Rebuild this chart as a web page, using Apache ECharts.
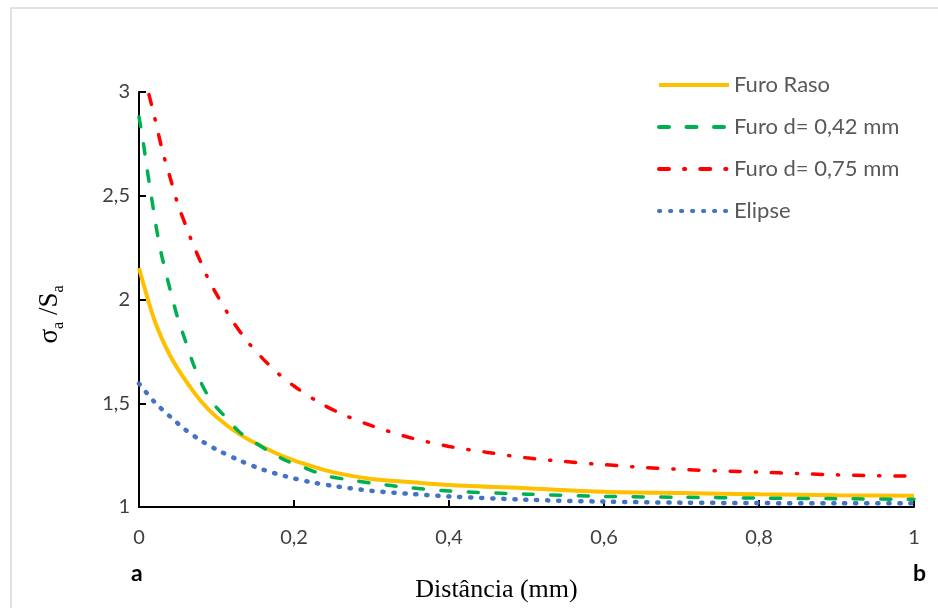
<!DOCTYPE html>
<html>
<head>
<meta charset="utf-8">
<script src="https://cdn.jsdelivr.net/npm/echarts@6/dist/echarts.min.js"></script>
<style>
  html, body { margin: 0; padding: 0; background: #ffffff; }
  #chart { width: 938px; height: 608px; }
</style>
</head>
<body>
<div id="chart"></div>
<script>
// Series names
var seriesNames = ['Furo Raso', 'Furo d= 0,42 mm', 'Furo d= 0,75 mm', 'Elipse'];

// Furo Raso
var distRaso = [0, 0.02, 0.04, 0.06, 0.08, 0.10, 0.13, 0.16, 0.19, 0.22, 0.25, 0.30, 0.35, 0.40, 0.50, 0.60, 0.70, 0.80, 0.90, 1.00];
var furoRaso = [2.152, 1.90, 1.73, 1.61, 1.51, 1.434, 1.35, 1.289, 1.238, 1.20, 1.168, 1.135, 1.12, 1.106, 1.09, 1.074, 1.067, 1.061, 1.057, 1.054];

// Furo d = 0,42 mm
var dist042 = [0, 0.005, 0.01, 0.015, 0.02, 0.025, 0.03, 0.04, 0.05, 0.06, 0.07, 0.08, 0.09, 0.10, 0.11, 0.13, 0.15, 0.17, 0.19, 0.21, 0.24, 0.27, 0.30, 0.35, 0.40, 0.50, 0.60, 0.70, 0.80, 0.90, 1.00];
var furo042 = [2.88, 2.77, 2.64, 2.52, 2.40, 2.29, 2.20, 2.05, 1.91, 1.80, 1.69, 1.60, 1.53, 1.48, 1.44, 1.36, 1.31, 1.263, 1.223, 1.195, 1.152, 1.132, 1.115, 1.093, 1.077, 1.062, 1.051, 1.047, 1.043, 1.040, 1.037];

// Furo d = 0,75 mm
var dist075 = [0, 0.01, 0.02, 0.03, 0.04, 0.05, 0.06, 0.07, 0.08, 0.09, 0.10, 0.12, 0.14, 0.16, 0.18, 0.20, 0.23, 0.26, 0.30, 0.35, 0.40, 0.45, 0.50, 0.55, 0.60, 0.65, 0.70, 0.75, 0.80, 0.85, 0.90, 0.95, 1.00];
var furo075 = [3.18, 3.03, 2.88, 2.72, 2.59, 2.46, 2.36, 2.263, 2.178, 2.094, 2.026, 1.90, 1.797, 1.714, 1.642, 1.583, 1.509, 1.451, 1.392, 1.334, 1.292, 1.263, 1.237, 1.219, 1.204, 1.191, 1.181, 1.174, 1.168, 1.161, 1.155, 1.151, 1.149];

// Elipse
var distElipse = [0, 0.02, 0.04, 0.06, 0.08, 0.10, 0.13, 0.16, 0.19, 0.22, 0.25, 0.30, 0.35, 0.40, 0.50, 0.60, 0.70, 0.80, 0.90, 1.00];
var elipse = [1.595, 1.506, 1.436, 1.372, 1.32, 1.277, 1.224, 1.18, 1.147, 1.121, 1.102, 1.078, 1.063, 1.051, 1.035, 1.026, 1.021, 1.019, 1.018, 1.018];

function pairs(xs, ys) {
  return xs.map(function (x, i) { return [x, ys[i]]; });
}
function comma(v) {
  return String(Math.round(v * 100) / 100).replace('.', ',');
}

var chart = echarts.init(document.getElementById('chart'), null, { renderer: 'canvas' });

var labelFont = 'Lato, "Open Sans", sans-serif';
var serifFont = '"Liberation Serif", "DejaVu Serif", serif';

chart.setOption({
  animation: false,
  backgroundColor: '#ffffff',
  grid: { left: 139, top: 92, right: 24, bottom: 100, containLabel: false },
  legend: {
    orient: 'vertical',
    left: 652,
    top: 69,
    padding: 5,
    itemWidth: 70,
    itemHeight: 14,
    itemGap: 20,
    itemStyle: { opacity: 0 },
    lineStyle: { width: 4 },
    textStyle: { fontFamily: labelFont, fontSize: 22, color: '#595959' },
    data: seriesNames
  },
  xAxis: {
    type: 'value',
    min: 0,
    max: 1,
    interval: 0.2,
    name: 'Distância (mm)',
    nameLocation: 'middle',
    nameGap: 70,
    nameTextStyle: { fontFamily: serifFont, fontSize: 26, color: '#000000', padding: [0, 60, 0, 0] },
    axisLine: { lineStyle: { color: '#000000', width: 2 } },
    axisTick: { inside: true, length: 7, lineStyle: { color: '#000000', width: 2 } },
    axisLabel: { margin: 21, fontFamily: labelFont, fontSize: 20, color: '#404040', formatter: comma },
    splitLine: { show: false }
  },
  yAxis: {
    type: 'value',
    min: 1,
    max: 3,
    interval: 0.5,
    name: '{m|σ}{s|a}{m| /S}{s|a}',
    nameLocation: 'middle',
    nameRotate: 90,
    nameGap: 72,
    nameTextStyle: {
      padding: [0, 30, 0, 0],
      rich: {
        m: { fontFamily: serifFont, fontSize: 27, color: '#000000', lineHeight: 34 },
        s: { fontFamily: serifFont, fontSize: 16, color: '#000000', lineHeight: 8, verticalAlign: 'bottom' }
      }
    },
    axisLine: { lineStyle: { color: '#000000', width: 2 } },
    axisTick: { inside: true, length: 7, lineStyle: { color: '#000000', width: 2 } },
    axisLabel: { margin: 9, fontFamily: labelFont, fontSize: 20, color: '#404040', formatter: comma },
    splitLine: { show: false }
  },
  graphic: [
    {
      type: 'rect',
      silent: true,
      shape: { x: 11, y: 8, width: 960, height: 640 },
      style: { fill: 'none', stroke: '#d9d9d9', lineWidth: 1.5 },
      z: -10
    },
    {
      type: 'text',
      left: 131,
      top: 562,
      style: { text: 'a', font: 'bold 23px ' + labelFont, fill: '#000000' }
    },
    {
      type: 'text',
      left: 913,
      top: 562,
      style: { text: 'b', font: 'bold 23px ' + labelFont, fill: '#000000' }
    }
  ],
  series: [
    {
      name: seriesNames[0],
      type: 'line',
      data: pairs(distRaso, furoRaso),
      symbol: 'none',
      smooth: 0.3,
      z: 2,
      lineStyle: { color: '#FFC000', width: 4, type: 'solid' },
      itemStyle: { color: '#FFC000' }
    },
    {
      name: seriesNames[1],
      type: 'line',
      data: pairs(dist042, furo042),
      symbol: 'none',
      smooth: 0.3,
      z: 3,
      lineStyle: { color: '#00B050', width: 3.5, type: [10, 17.5], cap: 'round' },
      itemStyle: { color: '#00B050' }
    },
    {
      name: seriesNames[2],
      type: 'line',
      data: pairs(dist075, furo075),
      symbol: 'none',
      smooth: 0.3,
      clip: true,
      z: 3,
      lineStyle: { color: '#FF0000', width: 3.5, type: [10, 15, 1.2, 15], cap: 'round' },
      itemStyle: { color: '#FF0000' }
    },
    {
      name: seriesNames[3],
      type: 'line',
      data: pairs(distElipse, elipse),
      symbol: 'none',
      smooth: 0.3,
      z: 4,
      lineStyle: { color: '#4472C4', width: 4.5, type: [1.2, 9.8], cap: 'round' },
      itemStyle: { color: '#4472C4' }
    }
  ]
});
</script>
</body>
</html>
